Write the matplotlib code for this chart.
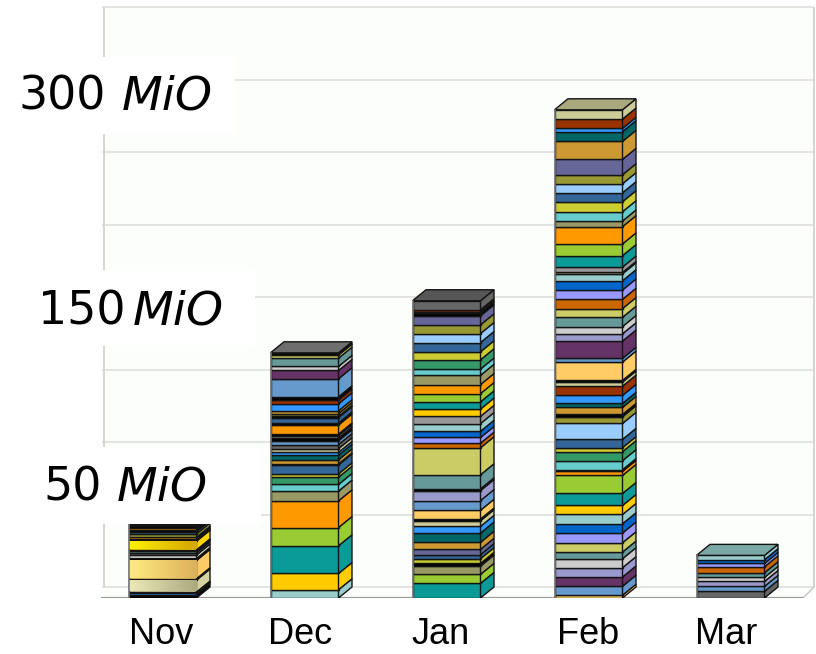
import numpy as np
import matplotlib
matplotlib.use("Agg")
import matplotlib.pyplot as plt
from matplotlib.colors import LinearSegmentedColormap
from matplotlib.patches import Polygon, Rectangle

W, H = 816, 654

months = ["Nov", "Dec", "Jan", "Feb", "Mar"]
label_pos = [-0.01, 0.97, 1.96, 3.0, 3.97]

# segment sizes per month in MiO, bottom to top
nov_values = [2.3, 1.1, 0.7, 8.3, 0.9, 12.6, 1.4, 2.3, 1.6, 1.1, 0.9, 6.0, 0.7, 0.9, 1.1, 2.3, 1.6, 1.4, 1.1, 1.6, 0.7, 0.7]
nov_colors = ["k", "blue3", "k", "nov_tan", "k", "nov_gold", "k", "white", "gray6", "tealgray", "k", "nov_yellow", "k", "teal", "orange", "olive", "steel", "k", "orange", "k", "purple", "k"]

dec_values = [5.7, 11.2, 19.1, 12.6, 18.4, 6.7, 4.6, 5.0, 2.3, 6.2, 0.7, 2.8, 3.2, 1.9, 2.6, 2.8, 2.6, 1.9, 1.6, 1.2, 6.2, 1.4, 3.7, 0.9, 1.9, 1.9, 4.8, 2.6, 2.3, 12.4, 5.7, 2.8, 5.7, 2.1, 1.6]
dec_colors = ["aqua", "yellow", "teal", "green", "orange", "tan", "aqua6", "green2", "yelolive", "steel", "k", "goldtan", "darkteal", "blue3", "lighttan", "gray6", "steelL", "k", "gray9", "k", "orange", "k", "steel", "k", "olive", "goldtan", "blue3", "rust", "k", "steelL", "purple", "lightgray", "tealgray", "olivelight", "k"]

jan_values = [10.1, 6.2, 5.7, 1.9, 3.2, 2.8, 3.7, 4.8, 6.4, 4.6, 3.9, 1.2, 6.0, 6.7, 6.9, 1.2, 9.7, 18.6, 3.2, 3.9, 4.3, 5.3, 5.0, 5.0, 5.0, 5.7, 6.2, 6.4, 4.3, 6.4, 5.5, 6.4, 6.2, 6.0, 6.2, 1.9, 0.9, 1.4, 6.2]
jan_colors = ["teal", "green", "tan", "k", "yelolive", "steel", "purple2", "goldtan", "darkteal", "blue3", "lighttan", "k", "gold", "steelL", "lavender", "k", "tealgray", "olivelight", "brown", "lavblue", "blue6", "aqua", "gray9", "yellow", "teal", "green", "orange", "tan", "aqua6", "green2", "yelolive", "steel", "lightblue", "olive", "purple2", "k", "blue3", "rust", "gray6"]

feb_values = [1.9, 6.2, 6.4, 6.4, 6.2, 4.6, 6.4, 6.7, 6.4, 6.4, 6.2, 8.3, 12.4, 2.8, 1.2, 6.2, 6.2, 2.8, 5.7, 11.0, 4.6, 1.6, 4.8, 2.8, 5.5, 6.4, 2.8, 1.2, 12.6, 2.6, 11.9, 5.0, 5.0, 6.4, 6.0, 6.4, 6.4, 6.4, 4.8, 0.9, 3.7, 7.9, 8.1, 11.9, 3.9, 6.4, 6.9, 6.2, 6.2, 6.2, 10.6, 12.4, 6.7, 2.3, 6.4, 6.4]
feb_colors = ["gold", "steelL", "purple", "lavender", "lightgray", "tealgray", "olivelight", "lavblue", "blue6", "aqua", "yellow", "teal", "green", "orange", "tan", "aqua6", "green2", "yelolive", "steel", "lightblue", "olive", "k", "goldtan", "darkteal", "blue3", "rust", "lighttan", "k", "gold", "steelL", "purple", "lavender", "lightgray", "tealgray", "olivelight", "brown", "lavblue", "blue6", "aqua", "tan", "gray9", "teal", "green", "orange", "tan", "aqua6", "yelolive", "steel", "lightblue", "olive", "purple2", "goldtan", "darkteal", "blue3", "rust", "lighttan"]

mar_values = [4.6, 3.4, 3.4, 2.8, 3.2, 4.1, 2.3, 2.6, 3.0]
mar_colors = ["gray6", "steelL", "lavender", "lightgray", "tealgray", "brown", "lavblue", "blue6", "aqua"]

all_values = [nov_values, dec_values, jan_values, feb_values, mar_values]
all_colors = [nov_colors, dec_colors, jan_colors, feb_colors, mar_colors]
top_colors = ["#111111", "#6e6e6e", "#565656", "#a9a87c", "#7aa8a4"]

palette = {
    "k": "#000000", "white": "#e8e8e8", "aqua": "#99cccc", "aqua6": "#66cccc", "yellow": "#ffcc00",
    "teal": "#0a9a98", "green": "#99cc33", "orange": "#ff9900", "tan": "#999966", "green2": "#339966",
    "yelolive": "#cccc33", "steel": "#336699", "goldtan": "#cc9933", "darkteal": "#006666", "blue3": "#3399ff",
    "lighttan": "#cccc99", "gray6": "#666666", "gray9": "#999999", "steelL": "#6699cc", "olive": "#999933",
    "rust": "#993300", "purple": "#663366", "purple2": "#666699", "lightgray": "#cccccc", "tealgray": "#669999",
    "olivelight": "#cccc66", "gold": "#ffcc66", "lavender": "#9999cc", "brown": "#cc6600", "lavblue": "#9999ff",
    "blue6": "#0066cc", "lightblue": "#99ccff",
    "nov_tan": "#d5d3a0", "nov_gold": "#fccb66", "nov_yellow": "#ffd700",
}
# the November bar has shaded faces
gradients = {
    "nov_tan": ("#ebe8b8", "#aeaa80"),
    "nov_gold": ("#ffec80", "#dcb05c"),
    "nov_yellow": ("#fff000", "#d4a600"),
}

px_per_mio = 1.45
unit_px = 142.0
bar_w = 68 / unit_px
depth_x = 13.5 / unit_px
depth_y = 11 / px_per_mio
edge = "#141414"

fig = plt.figure(figsize=(W / 100, H / 100), dpi=100)
ax = fig.add_axes([0, 56 / H, 1, 598 / H])
ax.patch.set_alpha(0)
xlim = (-162.5 / unit_px, (W - 162.5) / unit_px)
ylim = (0, 598 / px_per_mio)

# walls and floor
grid_vals = np.arange(0, 401, 50)
wall_l, wall_r = (104 - 162.5) / unit_px, (814 - 162.5) / unit_px
floor_l, floor_r = (101 - 162.5) / unit_px, (803 - 162.5) / unit_px
ax.add_patch(Rectangle((wall_l, 0), wall_r - wall_l, grid_vals[-1] + depth_y, fc="#fcfefc", ec="none", zorder=0))
ax.hlines(grid_vals + depth_y, wall_l - 2 / unit_px, wall_r, color="#dcdcd8", lw=1.1, zorder=1)
ax.vlines([wall_l, wall_r], depth_y, grid_vals[-1] + depth_y, color="#d4d4d0", lw=1.4, zorder=1)
ax.plot([floor_r, wall_r], [0, depth_y], color="#c4c4c4", lw=1.0, zorder=1)
ax.hlines(0, floor_l, floor_r, color="#9a9a9a", lw=1.6, zorder=2)

for i, (vals, cols) in enumerate(zip(all_values, all_colors)):
    left = i - bar_w / 2
    right = i + bar_w / 2
    bottom = 0.0
    for v, c in zip(vals, cols):
        base = palette[c]
        ax.bar(i, v, bar_w, bottom=bottom, color=base, edgecolor=edge, linewidth=1.0, zorder=3)
        if c in gradients:
            cmap = LinearSegmentedColormap.from_list(c, gradients[c])
            ax.imshow(np.linspace(0, 1, 64).reshape(1, -1), cmap=cmap, aspect="auto", zorder=3.1,
                      extent=(left, right, bottom + 0.4, bottom + v - 0.4))
        side = [(right, bottom), (right + depth_x, bottom + depth_y),
                (right + depth_x, bottom + v + depth_y), (right, bottom + v)]
        ax.add_patch(Polygon(side, fc=base, ec=edge, lw=1.0, zorder=3))
        bottom += v
    roof = [(left, bottom), (right, bottom), (right + depth_x, bottom + depth_y), (left + depth_x, bottom + depth_y)]
    ax.add_patch(Polygon(roof, fc=top_colors[i], ec=edge, lw=1.0, zorder=3))
    ax.plot([left, left], [0, bottom], color="#777777", lw=1.2, zorder=4)

ax.set_xlim(xlim)
ax.set_ylim(ylim)
ax.set_yticks([])
ax.set_xticks(label_pos, months, family="Liberation Sans", fontsize=26)
ax.tick_params(axis="x", length=0, pad=13.5)
for s in ax.spines.values():
    s.set_visible(False)


# white label plates sit on top of the chart
def plate(x0, y0, x1, y1):
    fig.add_artist(Rectangle((x0 / W, 1 - y1 / H), (x1 - x0) / W, (y1 - y0) / H, fc="white", ec="none",
                             transform=fig.transFigure, zorder=5))


def amount(x_num, x_unit, y, num):
    fig.text(x_num / W, 1 - y / H, num, fontsize=33, family="DejaVu Sans", va="center", ha="left", zorder=6)
    fig.text(x_unit / W, 1 - y / H, "MiO", fontsize=34, family="DejaVu Sans", style="italic", va="center", ha="left", zorder=6)


plate(10, 57, 235, 134)
plate(30, 270, 255, 346)
plate(30, 447, 261, 524)
amount(19, 122, 97, "300")
amount(38, 133, 312, "150")
amount(43, 117, 488, "50")

fig.savefig("out.png", dpi=100)
